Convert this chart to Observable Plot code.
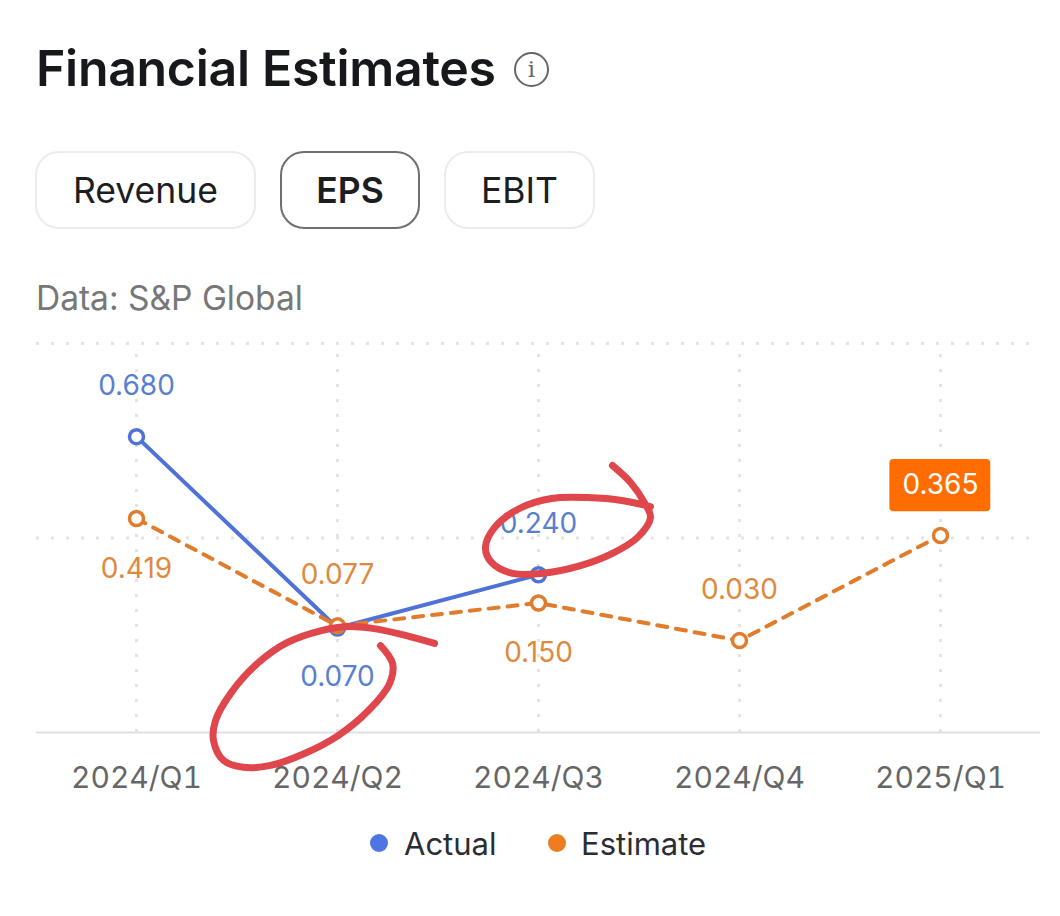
<!DOCTYPE html>
<html>
<head>
<meta charset="utf-8">
<script src="https://cdn.jsdelivr.net/npm/d3@7"></script>
<script src="https://cdn.jsdelivr.net/npm/@observablehq/plot@0.6"></script>
<style>
  html,body{margin:0;background:#fff;}
  body{position:relative;width:1060px;height:916px;overflow:hidden;font-family:Inter,"Noto Sans",sans-serif;}
  .a{position:absolute;white-space:nowrap;}
  #title{left:36px;top:38px;font-size:50px;line-height:60px;font-weight:600;color:#16181c;letter-spacing:-.3px;}
  #info{left:514px;top:52px;width:31px;height:31px;border:2.5px solid #666;border-radius:50%;color:#666;font:23px/31px "DejaVu Serif",serif;text-align:center;}
  .btn{top:151px;height:74px;border:2px solid #ececec;border-radius:24px;font-size:35.5px;line-height:76px;text-align:center;color:#1b1d21;background:#fff;}
  .btn.on{border-color:#6f6f6f;font-weight:600;}
  #src{left:36px;top:279px;font-size:33.5px;line-height:38px;color:#777;}
  #chart{left:0;top:320px;}
  #chart svg{overflow:visible;display:block;}
  .key{top:826px;font-size:31px;line-height:36px;color:#2b2d31;}
  .sw{top:834px;width:18px;height:18px;border-radius:50%;}
</style>
</head>
<body>
<div class="a" id="title">Financial Estimates</div>
<div class="a" id="info">i</div>
<div class="a btn" style="left:35px;width:217px">Revenue</div>
<div class="a btn on" style="left:280px;width:136px">EPS</div>
<div class="a btn" style="left:444px;width:147px">EBIT</div>
<div class="a" id="src">Data: S&amp;P Global</div>
<div class="a" id="chart"></div>
<div class="a sw" style="left:370px;background:#4f74e3"></div>
<div class="a key" style="left:404px">Actual</div>
<div class="a sw" style="left:548px;background:#ee7d22"></div>
<div class="a key" style="left:581px">Estimate</div>
<script>
const quarters = ["2024/Q1","2024/Q2","2024/Q3","2024/Q4","2025/Q1"];
const actualIdx = [0,1,2];
const actualVals = [0.680,0.070,0.240];
const estimateIdx = [0,1,2,3,4];
const estimateVals = [0.419,0.077,0.150,0.030,0.365];
const gridVals = [0.977,0.357];
const axisMin = -0.263;
const xDomain = [-0.4975,4.4975];
const badgeX = [3.748,4.25];
const badgeY = [0.441,0.607];

// hand-drawn red annotation strokes, read in data units
const mark1X = [1.483,1.343,1.174,1.055,0.920,0.751,0.602,0.468,0.393,0.383,0.433,0.532,0.667,0.836,1.005,1.154,1.259,1.274,1.214];
const mark1Y = [0.021,0.046,0.069,0.075,0.062,0.024,-0.043,-0.139,-0.225,-0.288,-0.352,-0.374,-0.368,-0.330,-0.272,-0.193,-0.107,-0.043,0.014];
const mark2X = [2.368,2.458,2.527,2.557,2.493,2.368,2.209,2.015,1.871,1.766,1.736,1.781,1.905,2.065,2.244,2.423,2.557];
const mark2Y = [0.588,0.534,0.470,0.422,0.359,0.308,0.269,0.244,0.244,0.279,0.327,0.390,0.451,0.483,0.486,0.476,0.457];

const zip = (xs,ys)=>xs.map((x,i)=>({x,y:ys[i]}));
const actual = zip(actualIdx,actualVals);
const estimate = zip(estimateIdx,estimateVals);
const mark1 = zip(mark1X,mark1Y);
const mark2 = zip(mark2X,mark2Y);
const fmt = d=>d.y.toFixed(3);

const BLUE="#4f72d8", ORANGE="#e07c2c", BLUE_T="#5a7fd0", ORANGE_T="#de8a3e", FONT="Inter, 'Noto Sans', sans-serif";
const labelOpts = {x:"x",y:"y",text:fmt,fontSize:28,fontFamily:FONT};

const chart = Plot.plot({
  width:1060,height:480,
  marginLeft:0,marginRight:0,marginTop:0,marginBottom:0,
  style:{background:"transparent",fontFamily:FONT},
  x:{type:"linear",domain:xDomain,range:[36,1040],axis:null},
  y:{type:"linear",domain:[axisMin,gridVals[0]],range:[412,23],axis:null},
  marks:[
    Plot.ruleY(gridVals,{x1:xDomain[0],x2:xDomain[1],stroke:"#e4e4e4",strokeWidth:3,strokeDasharray:"3 12"}),
    Plot.ruleX(estimateIdx,{y1:axisMin,y2:gridVals[0],stroke:"#e4e4e4",strokeWidth:3,strokeDasharray:"3 12"}),
    Plot.ruleY([axisMin],{x1:xDomain[0],x2:xDomain[1],stroke:"#dde1e6",strokeWidth:2}),
    Plot.axisX({anchor:"bottom",y:axisMin,ticks:estimateIdx,tickSize:0,tickPadding:34,tickFormat:i=>quarters[i],fontSize:30,fontFamily:FONT,color:"#666",label:null}),
    Plot.line(actual,{x:"x",y:"y",stroke:BLUE,strokeWidth:4}),
    Plot.line(estimate,{x:"x",y:"y",stroke:ORANGE,strokeWidth:4,strokeDasharray:"10 9"}),
    Plot.dot(actual,{x:"x",y:"y",r:7,stroke:BLUE,strokeWidth:3.5,fill:"#fff"}),
    Plot.dot(estimate,{x:"x",y:"y",r:7,stroke:ORANGE,strokeWidth:3.5,fill:"#fff"}),
    Plot.text(actual.filter(d=>d.x!==1),{...labelOpts,dy:-51,fill:BLUE_T}),
    Plot.text(actual.filter(d=>d.x===1),{...labelOpts,dy:49,fill:BLUE_T}),
    Plot.text(estimate.filter(d=>d.x===1||d.x===3),{...labelOpts,dy:-51,fill:ORANGE_T}),
    Plot.text(estimate.filter(d=>d.x===0||d.x===2),{...labelOpts,dy:50,fill:ORANGE_T}),
    Plot.rect([{x1:badgeX[0],x2:badgeX[1],y1:badgeY[0],y2:badgeY[1]}],{x1:"x1",x2:"x2",y1:"y1",y2:"y2",fill:"#ff6d00",rx:4}),
    Plot.text(estimate.filter(d=>d.x===4),{...labelOpts,dy:-50,fill:"#fff"}),
    Plot.line(mark1,{x:"x",y:"y",stroke:"#e0474c",strokeWidth:7,curve:"catmull-rom",strokeLinecap:"round"}),
    Plot.line(mark2,{x:"x",y:"y",stroke:"#e0474c",strokeWidth:7,curve:"catmull-rom",strokeLinecap:"round"})
  ]
});
document.getElementById("chart").appendChild(chart);
</script>
</body>
</html>
